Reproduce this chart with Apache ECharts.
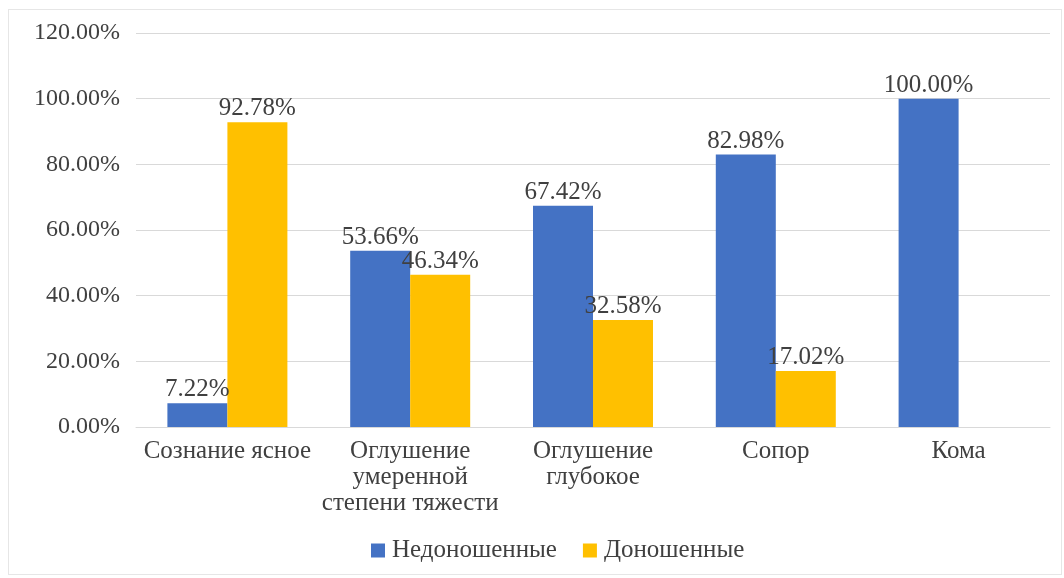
<!DOCTYPE html>
<html>
<head>
<meta charset="utf-8">
<script src="https://cdn.jsdelivr.net/npm/echarts@6/dist/echarts.min.js"></script>
<style>
  html, body { margin: 0; padding: 0; background: #fff; }
  #frame { position: absolute; left: 8px; top: 9px; width: 1054px; height: 566px; border: 1px solid #e6e6e6; box-sizing: border-box; }
  #chart { width: 1064px; height: 578px; }
</style>
</head>
<body>
<div id="frame"></div>
<div id="chart"></div>
<script>
// Consciousness level by group, percent
const categories = ['Сознание ясное', 'Оглушение\nумеренной\nстепени тяжести', 'Оглушение\nглубокое', 'Сопор', 'Кома'];
const seriesNames = ['Недоношенные', 'Доношенные'];
const preterm = [7.22, 53.66, 67.42, 82.98, 100.00];
const fullTerm = [92.78, 46.34, 32.58, 17.02, 0];
const yTicks = { min: 0, max: 120, interval: 20 };

const font = '"Liberation Serif", "DejaVu Serif", serif';
const textColor = '#404040';
const chart = echarts.init(document.getElementById('chart'));

const labelCfg = {
  show: true,
  position: 'top',
  distance: 1,
  color: textColor,
  fontFamily: font,
  fontSize: 25,
  formatter: p => (p.value ? p.value.toFixed(2) + '%' : '')
};

chart.setOption({
  animation: false,
  textStyle: { fontFamily: font },
  grid: { left: 136, right: 14, top: 33, bottom: 151 },
  legend: {
    bottom: 10,
    left: 366,
    itemWidth: 14,
    itemHeight: 14,
    itemGap: 26,
    icon: 'rect',
    textStyle: { fontFamily: font, fontSize: 25, color: textColor, padding: [0, 0, 0, 2] },
    data: seriesNames
  },
  xAxis: {
    type: 'category',
    data: categories,
    axisLine: { lineStyle: { color: '#d9d9d9', width: 1 } },
    axisTick: { show: false },
    axisLabel: { fontFamily: font, fontSize: 25, color: textColor, margin: 11, lineHeight: 26, interval: 0 }
  },
  yAxis: {
    type: 'value',
    min: yTicks.min,
    max: yTicks.max,
    interval: yTicks.interval,
    axisLine: { show: false },
    axisTick: { show: false },
    splitLine: { lineStyle: { color: '#d9d9d9', width: 1 } },
    axisLabel: {
      fontFamily: font, fontSize: 24, color: textColor, margin: 16,
      formatter: v => v.toFixed(2) + '%'
    }
  },
  series: [
    {
      name: seriesNames[0], type: 'bar', data: preterm,
      barWidth: 60, barGap: '0%',
      itemStyle: { color: '#4472c4' },
      label: labelCfg
    },
    {
      name: seriesNames[1], type: 'bar', data: fullTerm,
      barWidth: 60,
      itemStyle: { color: '#ffc000' },
      label: labelCfg
    }
  ]
});
</script>
</body>
</html>
